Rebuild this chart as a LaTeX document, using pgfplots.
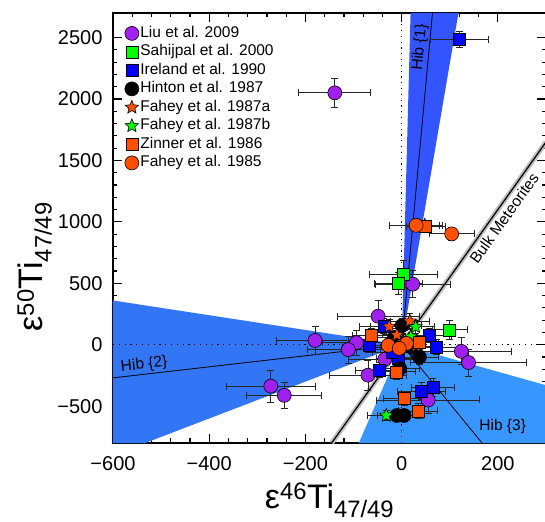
\documentclass[border=0pt]{standalone}
\usepackage{fontspec}
\setmainfont{Liberation Sans}
\usepackage{pgfplots}
\pgfplotsset{compat=1.18}
\definecolor{hibA}{RGB}{51,85,255}
\definecolor{hibB}{RGB}{50,118,245}
\definecolor{hibC}{RGB}{55,150,255}
\definecolor{liu}{RGB}{160,32,240}
\definecolor{sah}{RGB}{0,255,0}
\definecolor{ire}{RGB}{0,0,255}
\definecolor{fah}{RGB}{255,80,0}
\definecolor{halo}{RGB}{190,190,190}

\pgfdeclareplotmark{fstar}{%
  \pgfpathmoveto{\pgfqpointpolar{90}{\pgfplotmarksize}}%
  \pgfpathlineto{\pgfqpointpolar{126}{0.45\pgfplotmarksize}}%
  \pgfpathlineto{\pgfqpointpolar{162}{\pgfplotmarksize}}%
  \pgfpathlineto{\pgfqpointpolar{198}{0.45\pgfplotmarksize}}%
  \pgfpathlineto{\pgfqpointpolar{234}{\pgfplotmarksize}}%
  \pgfpathlineto{\pgfqpointpolar{270}{0.45\pgfplotmarksize}}%
  \pgfpathlineto{\pgfqpointpolar{306}{\pgfplotmarksize}}%
  \pgfpathlineto{\pgfqpointpolar{342}{0.45\pgfplotmarksize}}%
  \pgfpathlineto{\pgfqpointpolar{18}{\pgfplotmarksize}}%
  \pgfpathlineto{\pgfqpointpolar{54}{0.45\pgfplotmarksize}}%
  \pgfpathclose
  \pgfusepathqfillstroke}

\pgfplotsset{
  eb/.style={only marks,
    error bars/x dir=both, error bars/x explicit,
    error bars/y dir=both, error bars/y explicit,
    error bars/error bar style={black!85, line width=0.8pt},
    error bars/error mark options={rotate=90, black!85, line width=0.8pt, mark size=3.5pt}},
}

\begin{document}
\begin{tikzpicture}
\begin{axis}[
  scale only axis, width=433pt, height=430pt,
  xmin=-600, xmax=300, ymin=-800, ymax=2700,
  xtick={-600,-400,-200,0,200},
  xticklabels={−600,−400,−200,0,200},
  ytick={-500,0,500,1000,1500,2000,2500},
  yticklabels={−500,0,500,1000,1500,2000,2500},
  minor tick num=4,
  tick align=inside,
  major tick length=9pt, minor tick length=4.5pt,
  every tick/.style={black, line width=1.2pt},
  axis line style={line width=1.6pt},
  ticklabel style={font=\fontsize{20}{24}\selectfont},
  xticklabel style={yshift=-10pt},
  yticklabel style={xshift=-7pt},
  xlabel={ε\textsuperscript{46}Ti\textsubscript{47/49}},
  ylabel={ε\textsuperscript{50}Ti\textsubscript{47/49}},
  label style={font=\fontsize{34}{40}\selectfont},
  xlabel style={at={(axis description cs:0.5,-0.152)}, anchor=base},
  ylabel style={at={(axis description cs:-0.162,0.41)}, anchor=base},
  legend style={draw=none, fill=none, at={(axis description cs:0.02,0.978)}, anchor=north west,
    font=\fontsize{15.5}{18}\selectfont, row sep=1pt,
    nodes={inner sep=1.5pt, text height=11.3pt, text depth=3.2pt}},
  legend cell align=left,
]
% Hibonite wedges
\addplot[fill=hibA, draw=none, forget plot] coordinates {(0,0) (18.5,2700) (118,2700)};
\addplot[fill=hibB, draw=none, forget plot] coordinates {(0,0) (-600,360) (-600,-800) (-533,-800)};
\addplot[fill=hibC, draw=none, forget plot] coordinates {(0,0) (300,-330) (300,-800) (-89,-800)};
% zero lines
\addplot[black, line width=1.2pt, dash pattern=on 1.2pt off 4.6pt, forget plot] coordinates {(-600,0) (300,0)};
\addplot[black, line width=1.2pt, dash pattern=on 1.2pt off 4.6pt, forget plot] coordinates {(0,-800) (0,2700)};
% hibonite lines
\addplot[black, line width=0.8pt, forget plot] coordinates {(0,0) (64,2700)};
\addplot[black, line width=0.8pt, forget plot] coordinates {(-600,-270) (0,0)};
\addplot[black, line width=0.8pt, forget plot] coordinates {(0,0) (167,-800)};
% bulk meteorites
\addplot[halo, line width=5pt, forget plot] coordinates {(-145.5,-800) (300,1650)};
\addplot[black, line width=1.2pt, forget plot] coordinates {(-145.5,-800) (300,1650)};

\node[font=\fontsize{15.5}{18}\selectfont, rotate=84.7, anchor=south, inner sep=2pt] at (axis cs:57.5,2415) {Hib \{1\}};
\node[font=\fontsize{15.5}{18}\selectfont, rotate=6.56, anchor=south, inner sep=2pt] at (axis cs:-533,-240) {Hib \{2\}};
\node[font=\fontsize{15.5}{18}\selectfont] at (axis cs:210,-662) {Hib \{3\}};
\node[font=\fontsize{15.5}{18}\selectfont, rotate=54.55, anchor=north, inner sep=4pt] at (axis cs:196,1078) {Bulk Meteorites};

% Liu et al. 2009
\addplot[eb, mark=*, mark size=7pt, mark options={fill=liu, draw=black, line width=0.6pt}]
 table[x=x, y=y, x error=ex, y error=ey, row sep=\\] {
 x y ex ey \\
 -139 2050 75 115 \\
 23 493 78 110 \\
 -49 232 85 130 \\
 -180 35 80 117 \\
 -94 16 70 100 \\
 -111 -40 85 110 \\
 -35 -118 75 100 \\
 -70 -248 80 120 \\
 -272 -337 92 130 \\
 -244 -412 78 105 \\
 124 -54 105 110 \\
 139 -145 120 110 \\
 55 -450 107 110 \\
 };
\addlegendentry{Liu et al. 2009}
% Sahijpal et al. 2000
\addplot[eb, mark=square*, mark size=6pt, mark options={fill=sah, draw=black, line width=0.6pt}]
 table[x=x, y=y, x error=ex, y error=ey, row sep=\\] {
 x y ex ey \\
 3 573 71 110 \\
 -6 498 50 90 \\
 100 121 36 75 \\
 };
\addlegendentry{Sahijpal et al. 2000}
% Ireland et al. 1990
\addplot[eb, mark=square*, mark size=6pt, mark options={fill=ire, draw=black, line width=0.6pt}]
 table[x=x, y=y, x error=ex, y error=ey, row sep=\\] {
 x y ex ey \\
 120 2485 60 65 \\
 -37 151 50 60 \\
 -68 -5 55 60 \\
 -46 -207 50 60 \\
 41 -377 50 70 \\
 65 -347 45 70 \\
 58 75 45 60 \\
 72 -19 45 60 \\
 -8 -113 45 60 \\
 -20 -60 40 50 \\
 };
\addlegendentry{Ireland et al. 1990}
% Hinton et al. 1987
\addplot[eb, mark=*, mark size=7pt, mark options={fill=black, draw=black, line width=0.6pt}]
 table[x=x, y=y, x error=ex, y error=ey, row sep=\\] {
 x y ex ey \\
 1 156 40 60 \\
 37 -100 40 60 \\
 -4 -194 40 60 \\
 -10 -576 40 40 \\
 5 -576 40 40 \\
 20 -20 40 50 \\
 -15 60 40 50 \\
 };
\addlegendentry{Hinton et al. 1987}
% Fahey et al. 1987a
\addplot[eb, mark=fstar, mark size=7pt, mark options={fill=fah, draw=black, line width=0.6pt}]
 table[x=x, y=y, x error=ex, y error=ey, row sep=\\] {
 x y ex ey \\
 48 972 30 40 \\
 -26 148 40 60 \\
 17 191 40 60 \\
 4 22 40 60 \\
 30 -10 40 60 \\
 -10 80 30 50 \\
 };
\addlegendentry{Fahey et al. 1987a}
% Fahey et al. 1987b
\addplot[eb, mark=fstar, mark size=7pt, mark options={fill=sah, draw=black, line width=0.6pt}]
 table[x=x, y=y, x error=ex, y error=ey, row sep=\\] {
 x y ex ey \\
 19 67 40 60 \\
 -32 -576 40 40 \\
 29 145 40 50 \\
 };
\addlegendentry{Fahey et al. 1987b}
% Zinner et al. 1986
\addplot[eb, mark=square*, mark size=6pt, mark options={fill=fah, draw=black, line width=0.6pt}]
 table[x=x, y=y, x error=ex, y error=ey, row sep=\\] {
 x y ex ey \\
 50 964 40 50 \\
 -63 75 40 60 \\
 -11 -221 40 60 \\
 6 -436 45 60 \\
 34 -539 40 60 \\
 37 22 40 50 \\
 };
\addlegendentry{Zinner et al. 1986}
% Fahey et al. 1985
\addplot[eb, mark=*, mark size=7pt, mark options={fill=fah, draw=black, line width=0.6pt}]
 table[x=x, y=y, x error=ex, y error=ey, row sep=\\] {
 x y ex ey \\
 30 972 55 50 \\
 104 902 47 50 \\
 -28 -5 40 60 \\
 10 10 40 50 \\
 -5 -30 40 50 \\
 };
\addlegendentry{Fahey et al. 1985}
\end{axis}
\pgfresetboundingbox
\path[use as bounding box] (current axis.south west) ++(-113pt,-78pt) rectangle ++(545pt,521pt);
\end{tikzpicture}
\end{document}
